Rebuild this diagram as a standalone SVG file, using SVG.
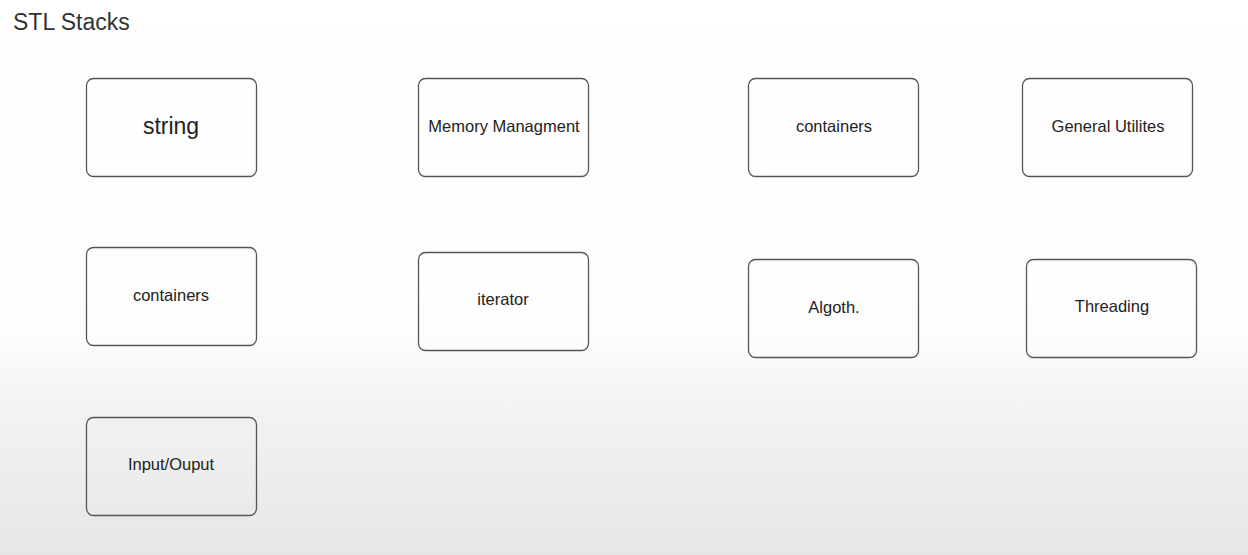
<svg xmlns="http://www.w3.org/2000/svg" width="1248" height="555" viewBox="0 0 1248 555">
<defs>
<linearGradient id="bg" x1="0" y1="0" x2="0" y2="1">
<stop offset="0" stop-color="#ffffff"/>
<stop offset="0.6" stop-color="#fdfdfd"/>
<stop offset="0.75" stop-color="#f2f2f2"/>
<stop offset="1" stop-color="#e6e6e6"/>
</linearGradient>
<style>
.box{fill:none;stroke:#555;stroke-width:1.3}
.lbl{font-family:"Liberation Sans",Arial,sans-serif;font-size:16.5px;fill:#222;text-anchor:middle;dominant-baseline:central}
.big{font-size:23px}
</style>
</defs>
<rect width="1248" height="555" fill="url(#bg)"/>
<text x="13" y="30" font-family="'Liberation Sans',Arial,sans-serif" font-size="23" fill="#333">STL Stacks</text>
<g id="n-string"><rect class="box" x="86.5" y="78.5" width="170" height="98" rx="7"/><text class="lbl big" x="171" y="126">string</text></g>
<g id="n-memory"><rect class="box" x="418.5" y="78.5" width="170" height="98" rx="7"/><text class="lbl" x="504" y="126">Memory Managment</text></g>
<g id="n-containers1"><rect class="box" x="748.5" y="78.5" width="170" height="98" rx="7"/><text class="lbl" x="834" y="126">containers</text></g>
<g id="n-general"><rect class="box" x="1022.5" y="78.5" width="170" height="98" rx="7"/><text class="lbl" x="1108" y="126">General Utilites</text></g>
<g id="n-containers2"><rect class="box" x="86.5" y="247.5" width="170" height="98" rx="7"/><text class="lbl" x="171" y="295">containers</text></g>
<g id="n-iterator"><rect class="box" x="418.5" y="252.5" width="170" height="98" rx="7"/><text class="lbl" x="503" y="299">iterator</text></g>
<g id="n-algoth"><rect class="box" x="748.5" y="259.5" width="170" height="98" rx="7"/><text class="lbl" x="834" y="307">Algoth.</text></g>
<g id="n-threading"><rect class="box" x="1026.5" y="259.5" width="170" height="98" rx="7"/><text class="lbl" x="1112" y="306">Threading</text></g>
<g id="n-io"><rect class="box" x="86.5" y="417.5" width="170" height="98" rx="7"/><text class="lbl" x="171" y="464">Input/Ouput</text></g>
<g id="connectors"></g>
</svg>
